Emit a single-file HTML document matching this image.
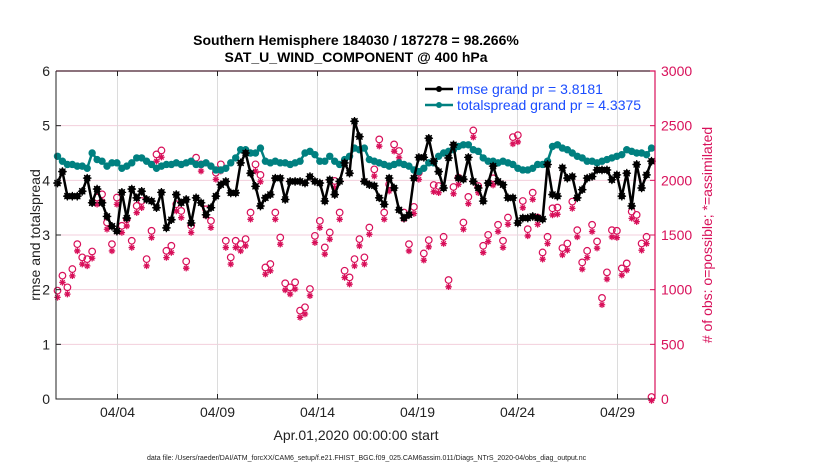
<!DOCTYPE html>
<html><head><meta charset="utf-8"><style>
body{margin:0;background:#fff;}
svg{display:block;font-family:"Liberation Sans",Arial,sans-serif;}
</style></head><body>
<svg id="chart" width="830" height="470" viewBox="0 0 830 470"></svg>
<script>
const tickLabels=["04/04","04/09","04/14","04/19","04/24","04/29"];
const tickDays=[3,8,13,18,23,28];
const leftTicks=[0,1,2,3,4,5,6];
const rightTicks=[0,500,1000,1500,2000,2500,3000];
const rmse=[3.95,4.16,3.71,3.71,3.71,3.80,4.04,3.59,3.84,3.59,3.34,3.16,3.07,3.78,3.31,3.84,3.68,3.80,3.65,3.62,3.50,3.78,3.13,3.28,3.74,3.59,3.65,3.22,3.68,3.59,3.37,3.50,3.71,3.92,3.98,3.77,3.77,4.32,4.50,4.13,3.89,3.53,3.68,3.74,4.04,4.04,3.65,3.98,3.98,3.98,3.95,4.07,3.98,3.95,3.62,4.01,3.74,3.98,4.32,4.13,5.08,
4.80,3.98,3.92,3.90,3.68,3.56,4.04,3.86,3.46,3.31,3.37,4.04,4.42,4.42,4.77,4.35,4.16,3.86,4.41,4.65,4.04,4.02,4.42,3.98,3.86,3.62,3.95,4.26,3.98,3.92,3.68,3.68,3.22,3.31,3.31,3.34,3.31,3.29,4.29,3.74,3.71,4.23,4.04,4.07,3.68,3.83,4.04,4.07,4.19,4.19,4.19,4.01,4.10,3.71,4.13,3.53,4.29,3.86,4.10,4.35];
const spread=[4.44,4.35,4.29,4.29,4.26,4.26,4.22,4.50,4.38,4.35,4.26,4.32,4.32,4.22,4.26,4.32,4.41,4.41,4.35,4.29,4.22,4.26,4.29,4.29,4.32,4.29,4.32,4.35,4.29,4.29,4.32,4.26,4.19,4.19,4.22,4.32,4.41,4.56,4.56,4.50,4.50,4.59,4.35,4.32,4.35,4.32,4.32,4.29,4.32,4.35,4.50,4.53,4.47,4.35,4.35,4.44,4.35,4.29,4.38,4.44,4.59,
4.56,4.59,4.38,4.35,4.32,4.29,4.26,4.29,4.32,4.29,4.26,4.19,4.16,4.22,4.32,4.32,4.44,4.50,4.53,4.56,4.62,4.65,4.65,4.56,4.53,4.41,4.35,4.35,4.32,4.35,4.32,4.29,4.22,4.19,4.19,4.22,4.29,4.29,4.35,4.62,4.65,4.59,4.56,4.50,4.44,4.41,4.35,4.35,4.32,4.35,4.38,4.41,4.44,4.47,4.56,4.53,4.50,4.50,4.47,4.59];
const nPossible=[973,1110,1003,1170,1398,1277,1261,1331,1824,1854,1596,1398,1824,1566,1626,1429,1748,1793,1261,1520,2219,2255,1337,1383,1763,1702,1240,1566,2189,2128,1717,1611,2052,2128,1429,1277,1429,1398,1444,1687,2128,2031,1185,1216,1687,1459,1040,1003,1049,790,821,988,1474,1611,1368,1505,1976,1687,1155,1094,
1261,1444,1277,1550,2082,2356,1687,1945,2310,2250,1687,1398,1739,2052,1313,1435,1939,1930,1465,1070,1921,2006,1596,1830,2438,1930,1383,1483,2000,1575,1429,1641,2377,2395,1793,1535,1869,1641,1322,1465,1726,1733,1362,1404,1787,1526,1231,1337,1575,1423,906,1140,1526,1520,1176,1222,1696,1666,1404,1465,0];
const nAssim=nPossible.map(v=>v>0?v-30:0);
const NS="http://www.w3.org/2000/svg";
const svg=document.getElementById('chart');
const X0=56,X1=655,Y0=399,Y1=71;
const STEP=0.2475;
const xs=d=>57.5+20*d;
const yl=v=>Y0-(Y0-Y1)*v/6;
const yr=v=>Y0-(Y0-Y1)*v/3000;
function mk(t,a,p){const e=document.createElementNS(NS,t);for(const k in a)e.setAttribute(k,a[k]);(p||svg).appendChild(e);return e;}
leftTicks.forEach(v=>{const l=mk('line',{x1:X0,x2:X1,y1:yl(v),y2:yl(v),stroke:'#f3cfdc','stroke-width':1});

});
tickDays.forEach(d=>{const l=mk('line',{x1:xs(d),x2:xs(d),y1:Y1,y2:Y0,stroke:'#dcdcdc','stroke-width':1});

});
const gObs=mk('g',{});


function star(x,y,r,color,g){let d='';for(let k=0;k<4;k++){const a=k*Math.PI/4;d+=`M${x-r*Math.cos(a)},${y-r*Math.sin(a)}L${x+r*Math.cos(a)},${y+r*Math.sin(a)}`;}
return mk('path',{d:d,stroke:color,'stroke-width':1.3,fill:'none'},g);}
nPossible.forEach((v,i)=>{const x=xs(i*STEP),y=yr(v);
const c=mk('circle',{cx:x,cy:y-2,r:3.3,fill:'none',stroke:'#d8105a','stroke-width':1.2},gObs);


const s=star(x,yr(nAssim[i])+1.5,3.2,'#d8105a',gObs);

});
function series(vals,color,r,name,st){const g=mk('g',{});


const pts=vals.map((v,i)=>xs(i*STEP)+','+yl(v)).join(' ');
mk('polyline',{points:pts,fill:'none',stroke:color,'stroke-width':2.5,'stroke-linejoin':'round'},g);
vals.forEach((v,i)=>{const c=mk('circle',{cx:xs(i*STEP),cy:yl(v),r:r,fill:color},g);


if(st)star(xs(i*STEP),yl(v),4.3,color,g);});}
series(spread,'#008080',3.7,'totalspread-line',false);
series(rmse,'#000',3.3,'rmse-line',true);
const ax=mk('path',{d:`M${X0},${Y1}V${Y0}H${X1}`,fill:'none',stroke:'#222','stroke-width':1});


const rax=mk('path',{d:`M${X0},${Y1}H${X1}V${Y0}`,fill:'none',stroke:'#d8105a','stroke-width':1.2});


mk('line',{x1:X0,x2:X1,y1:Y1,y2:Y1,stroke:'#222','stroke-width':1});
leftTicks.forEach(v=>{mk('line',{x1:X0,x2:X0+5,y1:yl(v),y2:yl(v),stroke:'#222'});
const t=mk('text',{x:X0-6,y:yl(v)+5,'text-anchor':'end','font-size':14,fill:'#222'});t.textContent=v;

});
rightTicks.forEach(v=>{mk('line',{x1:X1-5,x2:X1,y1:yr(v),y2:yr(v),stroke:'#d8105a'});
const t=mk('text',{x:X1+6,y:yr(v)+5,'font-size':14,fill:'#d8105a'});t.textContent=v;

});
tickDays.forEach((d,i)=>{mk('line',{x1:xs(d),x2:xs(d),y1:Y0,y2:Y0-5,stroke:'#222'});mk('line',{x1:xs(d),x2:xs(d),y1:Y1,y2:Y1+5,stroke:'#222'});
const t=mk('text',{x:xs(d),y:Y0+18,'text-anchor':'middle','font-size':14,fill:'#222'});t.textContent=tickLabels[i];

});
function txt(s,a,name){const t=mk('text',a);t.textContent=s;

return t;}
txt('Southern Hemisphere 184030 / 187278 = 98.266%',{x:356,y:45,'text-anchor':'middle','font-size':14,'font-weight':'bold',fill:'#000'},'title-line-1');
txt('SAT_U_WIND_COMPONENT @ 400 hPa',{x:356,y:62,'text-anchor':'middle','font-size':14,'font-weight':'bold',fill:'#000'},'title-line-2');
txt('Apr.01,2020 00:00:00 start',{x:356,y:440,'text-anchor':'middle','font-size':14,fill:'#222'},'x-axis-title');
txt('rmse and totalspread',{x:0,y:0,'text-anchor':'middle','font-size':14,fill:'#222',transform:'translate(40,235) rotate(-90)'},'y-axis-title');
txt('# of obs: o=possible; *=assimilated',{x:0,y:0,'text-anchor':'middle','font-size':14,fill:'#d8105a',transform:'translate(712,235) rotate(-90)'},'right-axis-title');
txt('data file: /Users/raeder/DAI/ATM_forcXX/CAM6_setup/f.e21.FHIST_BGC.f09_025.CAM6assim.011/Diags_NTrS_2020-04/obs_diag_output.nc',{x:147,y:460,'font-size':7,fill:'#222'},'data-file-note');
const lg=mk('g',{});


mk('line',{x1:425,x2:453,y1:89,y2:89,stroke:'#000','stroke-width':2.5},lg);
mk('circle',{cx:439,cy:89,r:3,fill:'#000'},lg);
mk('line',{x1:425,x2:453,y1:105,y2:105,stroke:'#008080','stroke-width':2.5},lg);
mk('circle',{cx:439,cy:105,r:3,fill:'#008080'},lg);
txt('rmse grand pr = 3.8181',{x:457,y:94,'font-size':14,fill:'#1a4cff'},'legend-rmse');
txt('totalspread grand pr = 4.3375',{x:457,y:110,'font-size':14,fill:'#1a4cff'},'legend-totalspread');
</script>
</body></html>
